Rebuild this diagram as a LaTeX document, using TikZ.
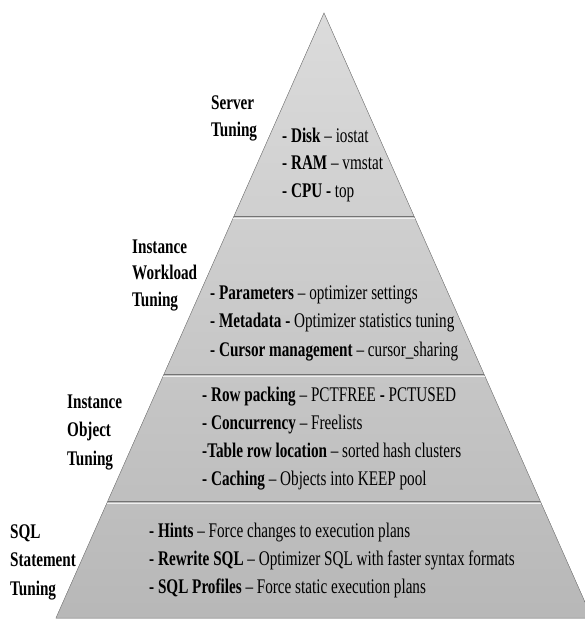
\documentclass[tikz,border=0pt]{standalone}
\usepackage{fontspec}
\setmainfont{Liberation Serif}[FakeStretch=0.73]
\usetikzlibrary{positioning,calc}

\begin{document}
\begin{tikzpicture}[x=1pt, y=-1pt]
        \tikzstyle{tiername}=[anchor=base west, inner sep=0pt, align=left, font=\bfseries\fontsize{20.8}{26.5}\selectfont]
        \tikzstyle{itemlist}=[anchor=base west, inner sep=0pt, align=left, font=\fontsize{20.8}{28}\selectfont]
        \tikzstyle{divider}=[draw=black!55, line width=1.2pt]
        \useasboundingbox (0,0) rectangle (585,619);
        % pyramid
        \coordinate (apex) at (324,13);
        \coordinate (bl) at (56,618);
        \coordinate (br) at (592,618);
        \fill[top color=black!14, bottom color=black!28] (apex) -- (bl) -- (br) -- cycle;
        \draw[black!45, line width=0.5pt] (apex) -- (bl) -- (br) -- cycle;
        \foreach \t in {0.337,0.598,0.807} {
            \draw[divider] ($(apex)!\t!(bl)$) -- ($(apex)!\t!(br)$);
            \draw[white!60!black!15, line width=0.8pt] ($(apex)!\t+0.003!(bl)$) -- ($(apex)!\t+0.003!(br)$);
        }
        % tiers, base anchor = last line
        \node[tiername] (server) at (211,136) {Server\\Tuning};
        \node[itemlist, font=\fontsize{20.8}{27.5}\selectfont] (serverlist) at (282,197) {\textbf{- Disk} -- iostat\\\textbf{- RAM} -- vmstat\\\textbf{- CPU -} top};
        \node[tiername] (workload) at (132,306) {Instance\\Workload\\Tuning};
        \node[itemlist, font=\fontsize{20.8}{28.5}\selectfont] (workloadlist) at (210,356) {\textbf{- Parameters} -- optimizer settings\\\textbf{- Metadata -} Optimizer statistics tuning\\\textbf{- Cursor management} -- cursor\_sharing};
        \node[tiername, font=\bfseries\fontsize{20.8}{28.5}\selectfont] (object) at (67,465) {Instance\\Object\\Tuning};
        \node[itemlist, font=\fontsize{20.8}{27.7}\selectfont] (objectlist) at (202,485) {\textbf{- Row packing} -- PCTFREE \textbf{-} PCTUSED\\\textbf{- Concurrency} -- Freelists\\\textbf{-Table row location} -- sorted hash clusters\\\textbf{- Caching} -- Objects into KEEP pool};
        \node[tiername, font=\bfseries\fontsize{20.8}{28.5}\selectfont] (sql) at (10,595) {SQL\\Statement\\Tuning};
        \node[itemlist] (sqllist) at (149,593) {\textbf{- Hints} -- Force changes to execution plans\\\textbf{- Rewrite SQL} -- Optimizer SQL with faster syntax formats\\\textbf{- SQL Profiles} -- Force static execution plans};
    \end{tikzpicture}
\end{document}
